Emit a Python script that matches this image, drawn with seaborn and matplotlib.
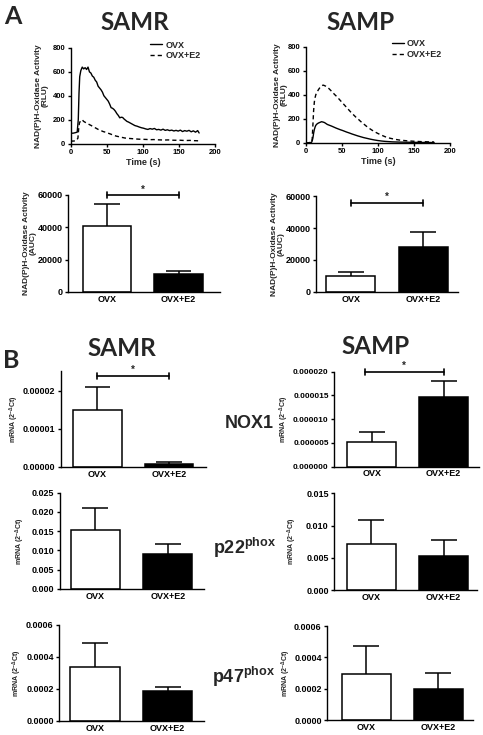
import numpy as np
import pandas as pd
import matplotlib
matplotlib.use('Agg')
import matplotlib.pyplot as plt
import seaborn as sns
from matplotlib.ticker import FormatStrFormatter

sns.set_style('ticks')
plt.rcParams['font.family'] = ['Liberation Sans', 'DejaVu Sans']
plt.rcParams['font.weight'] = 'bold'
plt.rcParams['axes.labelweight'] = 'bold'
plt.rcParams['mathtext.fontset'] = 'custom'
plt.rcParams['mathtext.rm'] = 'Liberation Sans:bold'
plt.rcParams['mathtext.bf'] = 'Liberation Sans:bold'
plt.rcParams['mathtext.it'] = 'Liberation Sans:bold'

groups = ['OVX', 'OVX+E2']

# kinetic curves (time in s, RLU)
samr_ovx_t = [0, 3, 6, 9, 10.5, 11.5, 12.5, 14, 16, 18, 20, 22, 24, 26, 28, 30, 32, 34, 36, 38, 40,
              42, 44, 46, 48, 50, 52, 54, 56, 58, 60, 62, 64, 66, 68, 70, 72, 74, 76, 78, 80, 83,
              86, 89, 92, 95, 98, 101, 104, 107, 110, 113, 116, 119, 122, 125, 128, 131, 134, 137,
              140, 143, 146, 149, 152, 155, 158, 161, 164, 167, 170, 173, 176, 178]
samr_ovx_v = [88, 86, 90, 95, 200, 420, 560, 610, 640, 625, 635, 620, 640, 600, 590, 565, 555, 530,
              515, 480, 465, 450, 430, 400, 385, 370, 355, 330, 300, 295, 285, 270, 250, 235, 215,
              220, 218, 205, 195, 185, 180, 170, 160, 150, 145, 138, 132, 128, 122, 118, 125, 120,
              126, 115, 118, 112, 120, 110, 115, 108, 112, 105, 110, 104, 112, 100, 108, 103, 110,
              98, 106, 95, 108, 88]
samr_e2_t = [0, 3, 6, 8, 9, 10, 11, 12, 14, 16, 18, 20, 22, 24, 26, 28, 30, 33, 36, 39, 42, 45, 48,
             51, 54, 57, 60, 63, 66, 69, 72, 75, 78, 82, 86, 90, 95, 100, 105, 110, 115, 120, 125,
             130, 135, 140, 145, 150, 155, 160, 165, 170, 175, 178]
samr_e2_v = [22, 20, 22, 25, 35, 45, 120, 170, 195, 198, 185, 178, 170, 165, 158, 152, 145, 135, 125,
             115, 108, 100, 95, 88, 82, 75, 68, 62, 58, 52, 50, 46, 44, 42, 40, 38, 36, 35, 34, 32,
             33, 31, 30, 29, 30, 28, 27, 28, 26, 25, 26, 24, 23, 22]
samp_ovx_t = [0, 4, 8, 9, 10, 11, 12, 13, 14, 16, 18, 20, 22, 24, 26, 28, 30, 33, 36, 39, 42, 45, 48,
              51, 54, 57, 60, 64, 68, 72, 76, 80, 85, 90, 95, 100, 105, 110, 115, 120, 130, 140,
              150, 160, 170, 178]
samp_ovx_v = [0, 0, 2, 15, 40, 80, 110, 130, 145, 158, 165, 170, 175, 172, 168, 160, 152, 145, 138,
              130, 122, 115, 108, 102, 95, 88, 82, 73, 65, 57, 50, 43, 36, 29, 23, 18, 14, 11, 9, 7,
              5, 4, 3, 2, 2, 1]
samp_e2_t = [0, 4, 8, 9, 10, 11, 12, 13, 14, 16, 18, 20, 22, 24, 26, 28, 30, 32, 34, 36, 38, 40, 43,
             46, 49, 52, 55, 58, 61, 64, 67, 70, 73, 76, 80, 84, 88, 92, 96, 100, 105, 110, 115,
             120, 125, 130, 140, 150, 160, 170, 178]
samp_e2_v = [0, 0, 3, 30, 150, 270, 340, 375, 400, 425, 445, 462, 472, 480, 476, 470, 462, 452, 440,
             428, 415, 402, 385, 365, 345, 325, 305, 285, 265, 245, 228, 210, 195, 178, 158, 138,
             120, 104, 90, 77, 63, 50, 40, 33, 27, 22, 16, 12, 9, 7, 6]

# bar data: mean and SEM
auc_samr_mean = [40500, 10800]
auc_samr_sem = [13800, 2000]
auc_samp_mean = [10300, 28100]
auc_samp_sem = [2500, 9200]
nox1_samr_mean = [1.49e-5, 8e-7]
nox1_samr_sem = [6.1e-6, 6e-7]
nox1_samp_mean = [5.3e-6, 1.47e-5]
nox1_samp_sem = [2.0e-6, 3.4e-6]
p22_samr_mean = [0.0153, 0.0091]
p22_samr_sem = [0.0058, 0.0025]
p22_samp_mean = [0.0071, 0.0052]
p22_samp_sem = [0.0038, 0.0025]
p47_samr_mean = [0.00034, 0.00019]
p47_samr_sem = [0.000146, 0.00002]
p47_samp_mean = [0.000294, 0.0002]
p47_samp_sem = [0.000178, 0.0001]

W, H = 483, 735
fig = plt.figure(figsize=(W / 100, H / 100), dpi=100)


def px(l, t, r, b):
    return [l / W, 1 - b / H, (r - l) / W, (b - t) / H]


def ftext(x, y, s, **kw):
    fig.text(x / W, 1 - y / H, s, **kw)


def style_axes(ax, fs):
    sns.despine(ax=ax)
    for sp in ['left', 'bottom']:
        ax.spines[sp].set_linewidth(1.0)
        ax.spines[sp].set_color('black')
    ax.tick_params(axis='both', direction='out', length=2.5, width=1.0, pad=1.5, labelsize=fs,
                   colors='black')


def kinetic_panel(box, ovx_t, ovx_v, e2_t, e2_v, label_right, leg_xy):
    ax = fig.add_axes(px(*box))
    df = pd.concat([
        pd.DataFrame({'t': ovx_t, 'v': ovx_v, 'group': 'OVX'}),
        pd.DataFrame({'t': e2_t, 'v': e2_v, 'group': 'OVX+E2'}),
    ])
    sns.lineplot(data=df, x='t', y='v', style='group', color='black', linewidth=1.0,
                 dashes={'OVX': '', 'OVX+E2': (3, 2.2)}, ax=ax)
    ax.set_xlim(0, 200)
    ax.set_ylim(0, 800)
    ax.set_xticks([0, 50, 100, 150, 200])
    ax.set_yticks([0, 200, 400, 600, 800])
    style_axes(ax, 5.5)
    ax.set_xlabel('Time (s)', fontsize=6.5, labelpad=1.5)
    ax.set_ylabel('NAD(P)H-Oxidase Activity\n(RLU)', fontsize=6, linespacing=1.0)
    ax.yaxis.set_label_coords((label_right - box[0]) / (box[2] - box[0]), 0.5)
    h, l = ax.get_legend_handles_labels()
    ax.legend(h, l, loc='upper left', bbox_to_anchor=(leg_xy[0] / W, 1 - leg_xy[1] / H),
              bbox_transform=fig.transFigure, frameon=False, fontsize=6.5, handlelength=1.33,
              handletextpad=0.35, labelspacing=0.2, borderpad=0, borderaxespad=0)
    return ax


def bar_panel(box, means, sems, ylim, yticks, fmt, ylabel, label_right, yfs, xlim=(-0.52, 1.5),
              sig=None, sig_x=(0, 1), tick_fs=6.5):
    ax = fig.add_axes(px(*box))
    df = pd.DataFrame({'group': groups, 'value': means})
    sns.barplot(data=df, x='group', y='value', hue='group', palette=['white', 'black'],
                edgecolor='black', linewidth=1.1, width=0.68, errorbar=None, legend=False, ax=ax)
    for i, (m, s) in enumerate(zip(means, sems)):
        ax.vlines(i, m, m + s, color='black', linewidth=1.1, zorder=1)
        ax.hlines(m + s, i - 0.18, i + 0.18, color='black', linewidth=1.1, zorder=1)
    ax.set_xlim(*xlim)
    ax.set_ylim(*ylim)
    ax.set_yticks(yticks)
    ax.yaxis.set_major_formatter(FormatStrFormatter(fmt))
    style_axes(ax, tick_fs)
    ax.tick_params(axis='x', length=0, pad=2, labelsize=6.5)
    ax.set_xlabel('')
    ax.set_ylabel(ylabel, fontsize=yfs, linespacing=1.0)
    ax.yaxis.set_label_coords((label_right - box[0]) / (box[2] - box[0]), 0.5)
    if sig is not None:
        d = 0.03 * (ylim[1] - ylim[0])
        x0, x1 = sig_x
        ax.plot([x0, x1], [sig, sig], color='black', linewidth=1.2, clip_on=False)
        ax.plot([x0, x0], [sig - d, sig + d], color='black', linewidth=1.2, clip_on=False)
        ax.plot([x1, x1], [sig - d, sig + d], color='black', linewidth=1.2, clip_on=False)
        ax.annotate('*', xy=((x0 + x1) / 2, sig), xytext=(0, 0.5), textcoords='offset points',
                    ha='center', va='bottom', fontsize=7, annotation_clip=False)
    return ax


# ---- Panel A ----
kinetic_panel((70.7, 48, 215, 143.5), samr_ovx_t, samr_ovx_v, samr_e2_t, samr_e2_v, 49, (150, 40.5))
kinetic_panel((305.7, 46.7, 450, 142.7), samp_ovx_t, samp_ovx_v, samp_e2_t, samp_e2_v, 288, (391.7, 39))

auc_label = 'NAD(P)H-Oxidase Activity\n(AUC)'
bar_panel((68, 194.7, 220, 292), auc_samr_mean, auc_samr_sem, (0, 60000), [0, 20000, 40000, 60000],
          '%d', auc_label, 37, 6, xlim=(-0.545, 1.58), sig=59600)
bar_panel((316, 196, 458, 292), auc_samp_mean, auc_samp_sem, (0, 60000), [0, 20000, 40000, 60000],
          '%d', auc_label, 285, 6, xlim=(-0.48, 1.48), sig=55800)

# ---- Panel B ----
mrna_label = r'mRNA (2$^{-\Delta}$Ct)'
bar_panel((61, 370.7, 206, 467), nox1_samr_mean, nox1_samr_sem, (0, 2.524e-5), [0, 1e-5, 2e-5],
          '%.5f', mrna_label, 21, 5, xlim=(-0.51, 1.52), sig=2.385e-5)
bar_panel((334.3, 371.7, 479, 466.7), nox1_samp_mean, nox1_samp_sem, (0, 2e-5),
          [0, 5e-6, 1e-5, 1.5e-5, 2e-5], '%.6f', mrna_label, 291, 5, xlim=(-0.52, 1.49),
          sig=2e-5, sig_x=(-0.1, 1.0), tick_fs=6)
bar_panel((60, 492.7, 204, 589), p22_samr_mean, p22_samr_sem, (0, 0.025),
          [0, 0.005, 0.01, 0.015, 0.02, 0.025], '%.3f', mrna_label, 27, 5, xlim=(-0.49, 1.5))
bar_panel((334.3, 493.3, 477, 590), p22_samp_mean, p22_samp_sem, (0, 0.015),
          [0, 0.005, 0.01, 0.015], '%.3f', mrna_label, 299, 5, xlim=(-0.51, 1.46))
bar_panel((59.3, 625, 204, 721), p47_samr_mean, p47_samr_sem, (0, 0.0006),
          [0, 0.0002, 0.0004, 0.0006], '%.4f', mrna_label, 24, 5, xlim=(-0.49, 1.5))
bar_panel((327.3, 626, 473, 720), p47_samp_mean, p47_samp_sem, (0, 0.0006),
          [0, 0.0002, 0.0004, 0.0006], '%.4f', mrna_label, 293, 5, xlim=(-0.54, 1.48))

# titles and labels
tkw = dict(family='Lato', fontweight='bold', ha='center', va='center')
ftext(12.5, 16, 'A', fontsize=18, **tkw)
ftext(11.5, 360, 'B', fontsize=18, **tkw)
ftext(135, 23, 'SAMR', fontsize=17.5, **tkw)
ftext(361, 23, 'SAMP', fontsize=17.5, **tkw)
ftext(122, 348, 'SAMR', fontsize=17.5, **tkw)
ftext(376, 347, 'SAMP', fontsize=17.5, **tkw)

gkw = dict(fontsize=13, fontweight='bold', ha='center', va='center')
ftext(249, 423, 'NOX1', **gkw)
ftext(245, 548, r'p22$^{\mathrm{phox}}$', **gkw)
ftext(244, 677, r'p47$^{\mathrm{phox}}$', **gkw)

fig.savefig('out.png', dpi=100, facecolor='white')
